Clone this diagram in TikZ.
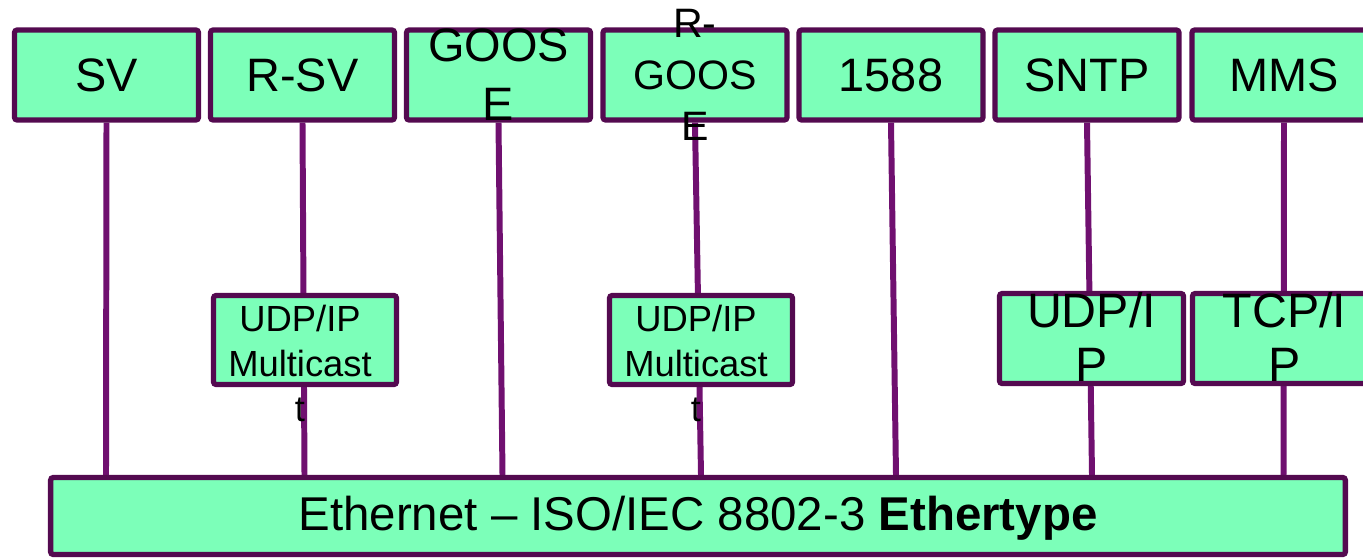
\documentclass[tikz,border=0pt]{standalone}
\usepackage{fontspec}
\setmainfont{Liberation Sans}
\usetikzlibrary{backgrounds}
\definecolor{boxfill}{RGB}{124,255,185}
\definecolor{boxline}{RGB}{84,10,80}
\definecolor{wirecol}{RGB}{112,16,112}
\tikzset{
  layerbox/.style={draw=boxline,fill=boxfill,line width=3pt,rounded corners=1.5pt,inner sep=0pt,minimum width=3.68cm,minimum height=1.8cm},
  bigtxt/.style={font=\fontsize{26.7}{33.5}\selectfont,align=center,inner sep=0pt},
  midtxt/.style={font=\fontsize{23.4}{29.2}\selectfont,align=center,inner sep=0pt},
  smalltxt/.style={font=\fontsize{20.7}{25.5}\selectfont,align=center,inner sep=0pt},
  wire/.style={draw=wirecol,line width=3.4pt}
}
\begin{document}
\begin{tikzpicture}[x=0.02cm,y=-0.02cm]
\useasboundingbox (0,0) rectangle (1363,559);
\clip (0,0) rectangle (1363,559);
% protocol row
\foreach \n/\x/\txt in {sv/106.5/SV, rsv/302.5/R-SV, goose/498.5/{GOOS\\E}, p1588/891/1588, sntp/1087/SNTP, mms/1284/MMS}
  \node[layerbox,label={[bigtxt]center:\txt}] (\n) at (\x,75) {};
\node[layerbox,label={[midtxt]center:{R-\\GOOS\\E}}] (rgoose) at (695,75) {};
% ethernet
\node[layerbox,minimum width=25.9cm,minimum height=1.54cm,
  label={[bigtxt,font=\fontsize{27}{32}\selectfont,yshift=-0.05cm]center:Ethernet – ISO/IEC 8802-3 \textbf{Ethertype}}] (eth) at (698,516) {};
% transport boxes
\node[layerbox,minimum width=3.66cm,minimum height=1.78cm,
  label={[smalltxt,xshift=-0.1cm,yshift=-0.47cm]center:{UDP/IP\\Multicast\\t}}] (udpa) at (305,340) {};
\node[layerbox,minimum width=3.66cm,minimum height=1.78cm,
  label={[smalltxt,xshift=-0.1cm,yshift=-0.47cm]center:{UDP/IP\\Multicast\\t}}] (udpb) at (701,340) {};
\node[layerbox,minimum width=3.68cm,minimum height=1.8cm,
  label={[bigtxt,font=\fontsize{27.5}{31}\selectfont,yshift=0.03cm]center:{UDP/I\\P}}] (udpc) at (1091.5,338.5) {};
\node[layerbox,minimum width=3.68cm,minimum height=1.8cm,
  label={[bigtxt,font=\fontsize{27.5}{31}\selectfont,yshift=0.03cm]center:{TCP/I\\P}}] (tcp) at (1284.5,338.5) {};
% wires behind the boxes
\begin{pgfonlayer}{background}
\foreach \n/\dx in {sv/-0.5, rsv/2, goose/4, rgoose/6, p1588/5, sntp/5, mms/-0.5}
  \draw[wire] (\n.south) -- ([xshift=\dx*0.02cm]\n.south |- eth.north);
\end{pgfonlayer}
\end{tikzpicture}
\end{document}
